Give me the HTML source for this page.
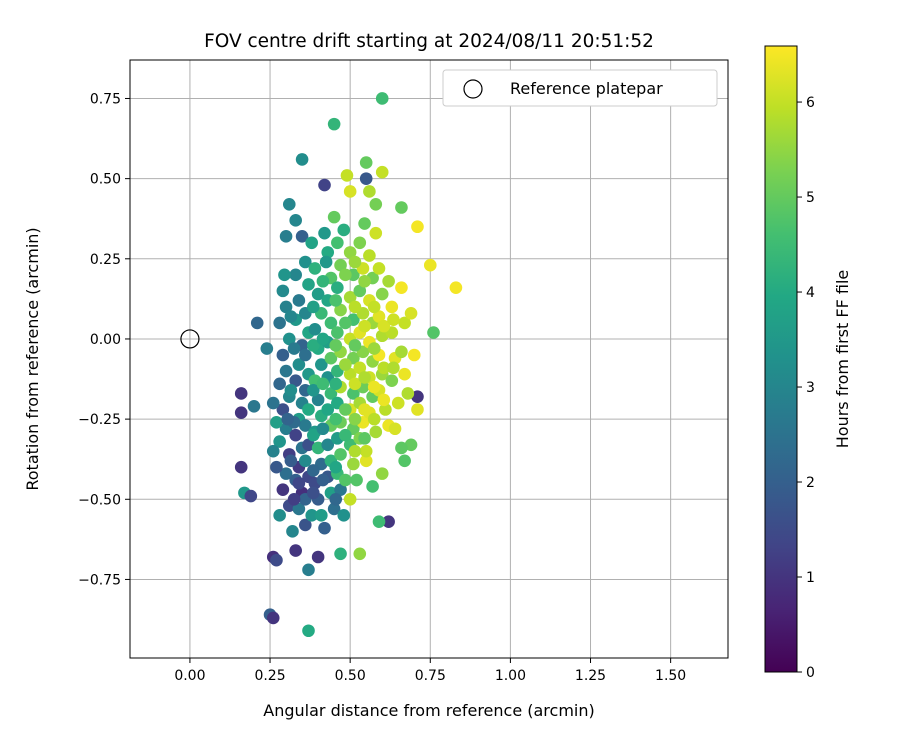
<!DOCTYPE html>
<html><head><meta charset="utf-8"><style>
html,body{margin:0;padding:0;background:#fff;}
svg{display:block;font-family:"DejaVu Sans","Liberation Sans",sans-serif;}
</style></head><body>
<svg id="chart" width="900" height="750" viewBox="0 0 900 750" xmlns="http://www.w3.org/2000/svg">
<defs><linearGradient id="vir" x1="0" y1="1" x2="0" y2="0">
<stop offset="0" stop-color="#440154"/><stop offset="0.1" stop-color="#482475"/><stop offset="0.2" stop-color="#414487"/><stop offset="0.3" stop-color="#355f8d"/><stop offset="0.4" stop-color="#2a788e"/><stop offset="0.5" stop-color="#21918c"/><stop offset="0.6" stop-color="#22a884"/><stop offset="0.7" stop-color="#44bf70"/><stop offset="0.8" stop-color="#7ad151"/><stop offset="0.9" stop-color="#bddf26"/><stop offset="1" stop-color="#fde725"/>
</linearGradient></defs>
<text x="429" y="47" font-size="18.5" text-anchor="middle">FOV centre drift starting at 2024/08/11 20:51:52</text>
<g id="grid"></g><g id="pts"></g><g id="axes"></g>
<text x="429" y="716" font-size="16" text-anchor="middle">Angular distance from reference (arcmin)</text>
<text transform="translate(38,359) rotate(-90)" font-size="16" text-anchor="middle">Rotation from reference (arcmin)</text>
<g>
<rect x="443" y="70" width="274" height="36" rx="3" fill="#fff" stroke="#ccc"/>
<circle cx="473" cy="89" r="9" fill="none" stroke="#000" stroke-width="1.2"/>
<text x="510" y="94" font-size="16">Reference platepar</text>
</g>
<g id="cbar"></g>
<text transform="translate(848,359) rotate(-90)" font-size="16" text-anchor="middle">Hours from first FF file</text>
</svg>
<script>
const xTicks=[0,0.25,0.5,0.75,1.0,1.25,1.5];
const xTickLabels=["0.00","0.25","0.50","0.75","1.00","1.25","1.50"];
const yTicks=[-0.75,-0.5,-0.25,0,0.25,0.5,0.75];
const yTickLabels=["−0.75","−0.50","−0.25","0.00","0.25","0.50","0.75"];
const cTicks=[0,1,2,3,4,5,6];
const xs=[0.60,0.45,0.35,0.42,0.55,0.60,0.49,0.50,0.56,0.55,0.58,0.66,0.71,0.75,0.83,0.76,0.31,0.33,0.30,0.35,0.21,0.24,0.16,0.16,0.20,0.16,0.17,0.19,0.25,0.26,0.37,0.26,0.27,0.37,0.33,0.40,0.47,0.53,0.62,0.59,0.71,0.71,0.69,0.67,0.57,0.50,0.55,0.60,
0.29,0.30,0.28,0.31,0.29,0.30,0.28,0.31,0.29,0.30,0.28,0.31,0.30,0.29,0.31,0.28,0.33,0.34,0.33,0.35,0.34,0.33,0.35,0.34,0.33,0.35,0.34,0.33,0.35,0.34,0.36,0.32,0.36,0.37,0.36,0.37,0.36,0.37,0.36,0.37,0.36,0.37,0.36,0.37,0.36,0.38,0.27,0.26,0.27,0.26,
0.39,0.40,0.41,0.39,0.40,0.41,0.39,0.40,0.41,0.39,0.40,0.41,0.39,0.40,0.41,0.43,0.44,0.43,0.44,0.43,0.44,0.43,0.44,0.43,0.44,0.43,0.44,0.43,0.44,0.45,0.42,0.46,0.47,0.46,0.47,0.46,0.47,0.46,0.47,0.46,0.47,0.46,0.47,0.46,0.47,0.48,0.48,0.42,0.45,0.38,
0.50,0.51,0.50,0.51,0.50,0.51,0.50,0.51,0.50,0.51,0.50,0.51,0.52,0.53,0.54,0.53,0.54,0.53,0.54,0.53,0.54,0.53,0.54,0.53,0.55,0.56,0.57,0.56,0.57,0.56,0.57,0.56,0.57,0.56,0.58,0.59,0.60,0.59,0.60,0.59,0.60,0.59,0.61,0.62,0.62,0.63,0.63,0.64,0.63,0.65,0.66,0.67,0.66,0.67,0.68,0.69,0.70,0.64,0.66,0.58,
0.315,0.325,0.315,0.325,0.315,0.325,0.385,0.385,0.385,0.385,0.385,0.385,0.415,0.415,0.415,0.415,0.415,0.425,0.455,0.455,0.455,0.455,0.455,0.455,0.485,0.485,0.485,0.485,0.485,0.485,0.515,0.515,0.515,0.515,0.515,0.515,0.545,0.545,0.545,0.545,0.545,0.545,0.575,0.575,0.575,0.575,0.605,0.605,0.605,0.635,0.635,0.295,0.305,0.34];
const ys=[0.75,0.67,0.56,0.48,0.55,0.52,0.51,0.46,0.46,0.50,0.42,0.41,0.35,0.23,0.16,0.02,0.42,0.37,0.32,0.32,0.05,-0.03,-0.17,-0.23,-0.21,-0.40,-0.48,-0.49,-0.86,-0.87,-0.91,-0.68,-0.69,-0.72,-0.66,-0.68,-0.67,-0.67,-0.57,-0.57,-0.18,-0.22,-0.33,-0.38,-0.46,-0.50,-0.38,-0.42,
0.15,0.10,0.05,0.00,-0.05,-0.10,-0.14,-0.18,-0.22,-0.28,-0.32,-0.36,-0.42,-0.47,-0.52,-0.55,0.20,0.12,0.06,-0.02,-0.08,-0.13,-0.20,-0.25,-0.30,-0.34,-0.40,-0.44,-0.48,-0.53,-0.58,-0.60,0.24,0.17,0.08,0.02,-0.05,-0.11,-0.16,-0.22,-0.27,-0.33,-0.38,-0.43,-0.50,-0.55,-0.40,-0.20,-0.26,-0.35,
0.22,0.14,0.08,0.03,-0.03,-0.08,-0.13,-0.19,-0.24,-0.29,-0.34,-0.39,-0.45,-0.50,-0.55,0.27,0.19,0.12,0.05,-0.01,-0.06,-0.12,-0.17,-0.22,-0.27,-0.33,-0.38,-0.43,-0.48,-0.53,-0.59,0.30,0.23,0.16,0.09,0.02,-0.04,-0.10,-0.15,-0.20,-0.26,-0.31,-0.36,-0.42,-0.47,-0.55,0.34,0.33,0.38,0.30,
0.27,0.20,0.13,0.06,0.00,-0.06,-0.11,-0.17,-0.22,-0.28,-0.33,-0.39,-0.44,0.30,0.22,0.15,0.08,0.02,-0.04,-0.09,-0.15,-0.20,-0.26,-0.31,-0.35,0.26,0.19,0.12,0.05,-0.01,-0.07,-0.12,-0.18,-0.23,-0.29,0.22,0.14,0.07,0.01,-0.05,-0.11,-0.16,-0.22,-0.27,0.18,0.10,0.02,-0.06,-0.13,-0.20,0.16,0.05,-0.04,-0.11,-0.17,0.08,-0.05,-0.28,-0.34,0.33,
0.07,-0.03,-0.16,-0.26,-0.38,-0.50,0.10,-0.02,-0.16,-0.30,-0.41,-0.48,0.18,0.00,-0.14,-0.28,-0.44,0.24,0.12,-0.02,-0.14,-0.25,-0.40,-0.50,0.20,0.05,-0.08,-0.22,-0.30,-0.44,0.24,0.10,-0.02,-0.14,-0.25,-0.35,0.18,0.04,-0.12,-0.22,-0.31,0.36,0.10,-0.03,-0.15,-0.25,0.04,-0.09,-0.19,0.06,-0.09,0.20,-0.25,-0.45];
const hs=[4.5,4.3,3.2,1.3,5.0,6.0,6.0,6.2,5.8,1.8,5.2,5.0,6.5,6.4,6.5,4.8,3.0,3.0,2.8,2.0,2.2,2.8,1.0,1.0,2.6,1.0,3.5,1.4,2.0,1.0,4.0,0.9,1.5,2.8,1.0,1.0,4.2,5.5,1.0,4.5,1.0,6.3,5.0,4.8,4.6,6.0,6.3,5.5,
3.1,2.9,2.5,3.3,2.0,2.6,2.2,3.0,1.6,2.8,3.4,1.2,2.4,1.0,1.5,3.2,3.0,2.7,3.5,2.1,3.2,1.8,2.9,3.6,1.3,2.5,1.1,2.0,0.9,2.6,1.7,3.0,3.3,3.8,3.0,3.9,2.4,3.5,2.2,4.0,2.7,1.6,3.1,1.4,2.1,3.4,1.8,2.5,3.7,2.9,
4.2,3.6,4.4,3.2,4.0,3.4,4.6,2.9,4.1,3.5,4.3,2.3,1.5,1.9,3.6,4.0,4.8,3.9,4.5,3.7,4.9,3.3,4.4,3.9,5.0,3.0,4.2,1.8,3.7,2.4,2.0,4.6,5.2,4.1,5.4,4.7,5.5,4.3,5.8,4.0,5.1,3.6,4.8,4.4,2.6,3.3,4.1,3.5,5.0,3.8,
5.5,4.9,5.7,4.6,6.0,5.2,5.9,4.7,6.2,5.0,4.5,5.6,4.8,5.3,6.1,5.0,5.8,6.3,5.4,6.0,5.1,5.7,6.4,5.3,6.0,5.9,5.2,6.2,5.6,6.4,5.5,6.1,5.0,6.3,5.7,6.0,5.4,6.3,5.8,6.5,5.6,6.2,5.9,6.4,5.7,6.4,5.9,6.3,5.3,6.1,6.5,6.0,5.7,6.4,5.8,6.2,6.5,6.2,4.9,6.1,
3.0,2.7,3.2,2.3,1.9,1.2,3.7,4.1,3.4,3.8,2.2,1.6,4.3,3.9,4.5,3.1,2.0,3.5,4.7,5.0,4.2,4.6,3.9,2.2,5.3,4.8,5.6,5.0,4.4,4.8,5.6,5.9,5.0,6.1,5.4,5.8,5.5,6.1,5.8,6.3,4.9,5.0,6.0,5.6,6.4,5.9,6.2,5.9,6.4,6.1,5.8,3.4,2.1,1.4];
const X0=130,X1=728,Y0=60,Y1=658,xmin=-0.187,xmax=1.679,ymin=-0.995,ymax=0.870,vmax=6.59;
const CB={x:765,w:32,top:46,bot:672};
const sx=v=>X0+(v-xmin)/(xmax-xmin)*(X1-X0);
const sy=v=>Y1-(v-ymin)/(ymax-ymin)*(Y1-Y0);
const sc=v=>CB.bot-v/vmax*(CB.bot-CB.top);
const VIR=[[68,1,84],[72,36,117],[65,68,135],[53,95,141],[42,120,142],[33,145,140],[34,168,132],[68,191,112],[122,209,81],[189,223,38],[253,231,37]];
function cmap(h){let t=Math.max(0,Math.min(1,h/vmax))*10;let i=Math.min(9,Math.floor(t)),f=t-i;const a=VIR[i],b=VIR[i+1];return`rgb(${a.map((c,k)=>Math.round(c+(b[k]-c)*f)).join(',')})`;}
const NS="http://www.w3.org/2000/svg";
function mk(tag,attrs,parent,txt){const e=document.createElementNS(NS,tag);for(const k in attrs)e.setAttribute(k,attrs[k]);if(txt!==undefined)e.textContent=txt;parent.appendChild(e);return e;}
const grid=document.getElementById('grid'),axes=document.getElementById('axes'),pts=document.getElementById('pts'),cb=document.getElementById('cbar');
xTicks.forEach((v,i)=>{const x=sx(v);
 const g=mk('line',{x1:x,x2:x,y1:Y0,y2:Y1,stroke:'#b0b0b0','stroke-width':1},grid);
 
 
 mk('line',{x1:x,x2:x,y1:Y1,y2:Y1+5,stroke:'#000'},axes);
 const t=mk('text',{x:x,y:Y1+22,'font-size':14,'text-anchor':'middle'},axes,xTickLabels[i]);
 
 });
yTicks.forEach((v,i)=>{const y=sy(v);
 const g=mk('line',{x1:X0,x2:X1,y1:y,y2:y,stroke:'#b0b0b0','stroke-width':1},grid);
 
 
 mk('line',{x1:X0-5,x2:X0,y1:y,y2:y,stroke:'#000'},axes);
 const t=mk('text',{x:X0-9,y:y+5,'font-size':14,'text-anchor':'end'},axes,yTickLabels[i]);
 
 });
for(let i=0;i<xs.length;i++){
 const c=mk('circle',{cx:sx(xs[i]),cy:sy(ys[i]),r:6.3,fill:cmap(hs[i])},pts);
 
 }
const ref=mk('circle',{cx:sx(0),cy:sy(0),r:9,fill:'none',stroke:'#000','stroke-width':1.2},pts);


const fr=mk('rect',{x:X0,y:Y0,width:X1-X0,height:Y1-Y0,fill:'none',stroke:'#000','stroke-width':1},axes);


mk('rect',{x:CB.x,y:CB.top,width:CB.w,height:CB.bot-CB.top,fill:'url(#vir)',stroke:'#000','stroke-width':1},cb);
cTicks.forEach(v=>{const y=sc(v);
 mk('line',{x1:CB.x+CB.w,x2:CB.x+CB.w+5,y1:y,y2:y,stroke:'#000'},cb);
 const t=mk('text',{x:CB.x+CB.w+9,y:y+5,'font-size':14},cb,String(v));
 
 });
</script>
</body></html>
